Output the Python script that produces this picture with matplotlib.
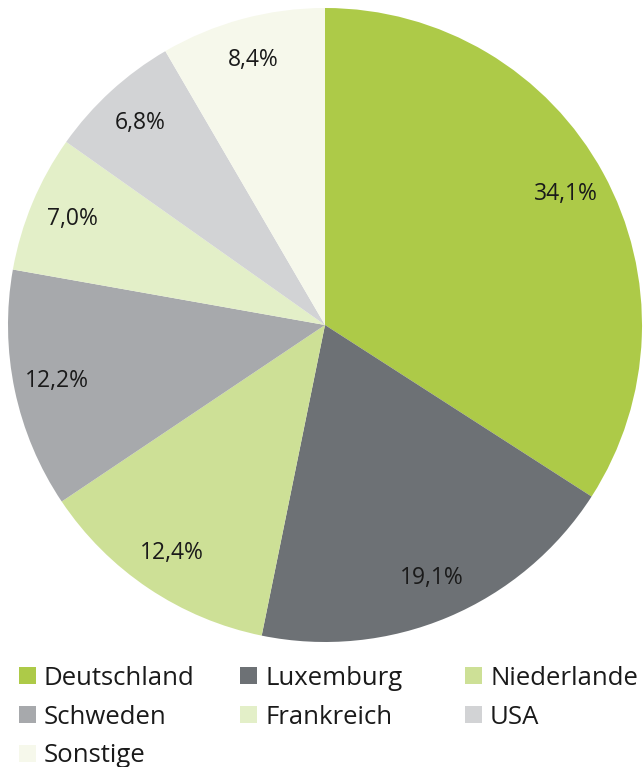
import matplotlib
matplotlib.use("Agg")
import matplotlib.pyplot as plt
from matplotlib.patches import Rectangle

plt.rcParams['font.family'] = ['Open Sans', 'DejaVu Sans']

# Data
laender = ['Deutschland', 'Luxemburg', 'Niederlande', 'Schweden', 'Frankreich', 'USA', 'Sonstige']
anteile = [34.1, 19.1, 12.4, 12.2, 7.0, 6.8, 8.4]
farben = ['#adca48', '#6d7175', '#cde096', '#a7a9ac', '#e3efc8', '#d2d3d5', '#f6f8eb']

W, H = 644, 767
fig = plt.figure(figsize=(W / 100, H / 100), dpi=100)

# pie area: center (325,325) px, radius ~317 px
r = 317
cx, cy = 325, 325
ax = fig.add_axes([(cx - r) / W, (H - cy - r) / H, 2 * r / W, 2 * r / H])

wedges, texts, autotexts = ax.pie(
    anteile, colors=farben, startangle=90, counterclock=False,
    autopct=lambda p: f"{p:.1f}".replace('.', ',') + '%',
    pctdistance=0.865, radius=1.0,
    wedgeprops=dict(linewidth=0),
    textprops=dict(fontsize=16.5, color='#1a1a1a'),
)
ax.set_xlim(-1, 1)
ax.set_ylim(-1, 1)
ax.set_aspect('auto')
ax.axis('off')

# legend, 3 columns
col_x = [19, 240, 465]
row_y = [675.5, 714.5, 753]
for i, (name, c) in enumerate(zip(laender, farben)):
    x = col_x[i % 3]
    y = row_y[i // 3]
    fig.add_artist(Rectangle((x / W, (H - y - 8.5) / H), 17 / W, 17 / H,
                             transform=fig.transFigure, facecolor=c, edgecolor='none'))
    fig.text((x + 25) / W, (H - y) / H, name, fontsize=18.5, color='#1a1a1a',
             va='center_baseline', ha='left')

fig.savefig('out.png', dpi=100)
